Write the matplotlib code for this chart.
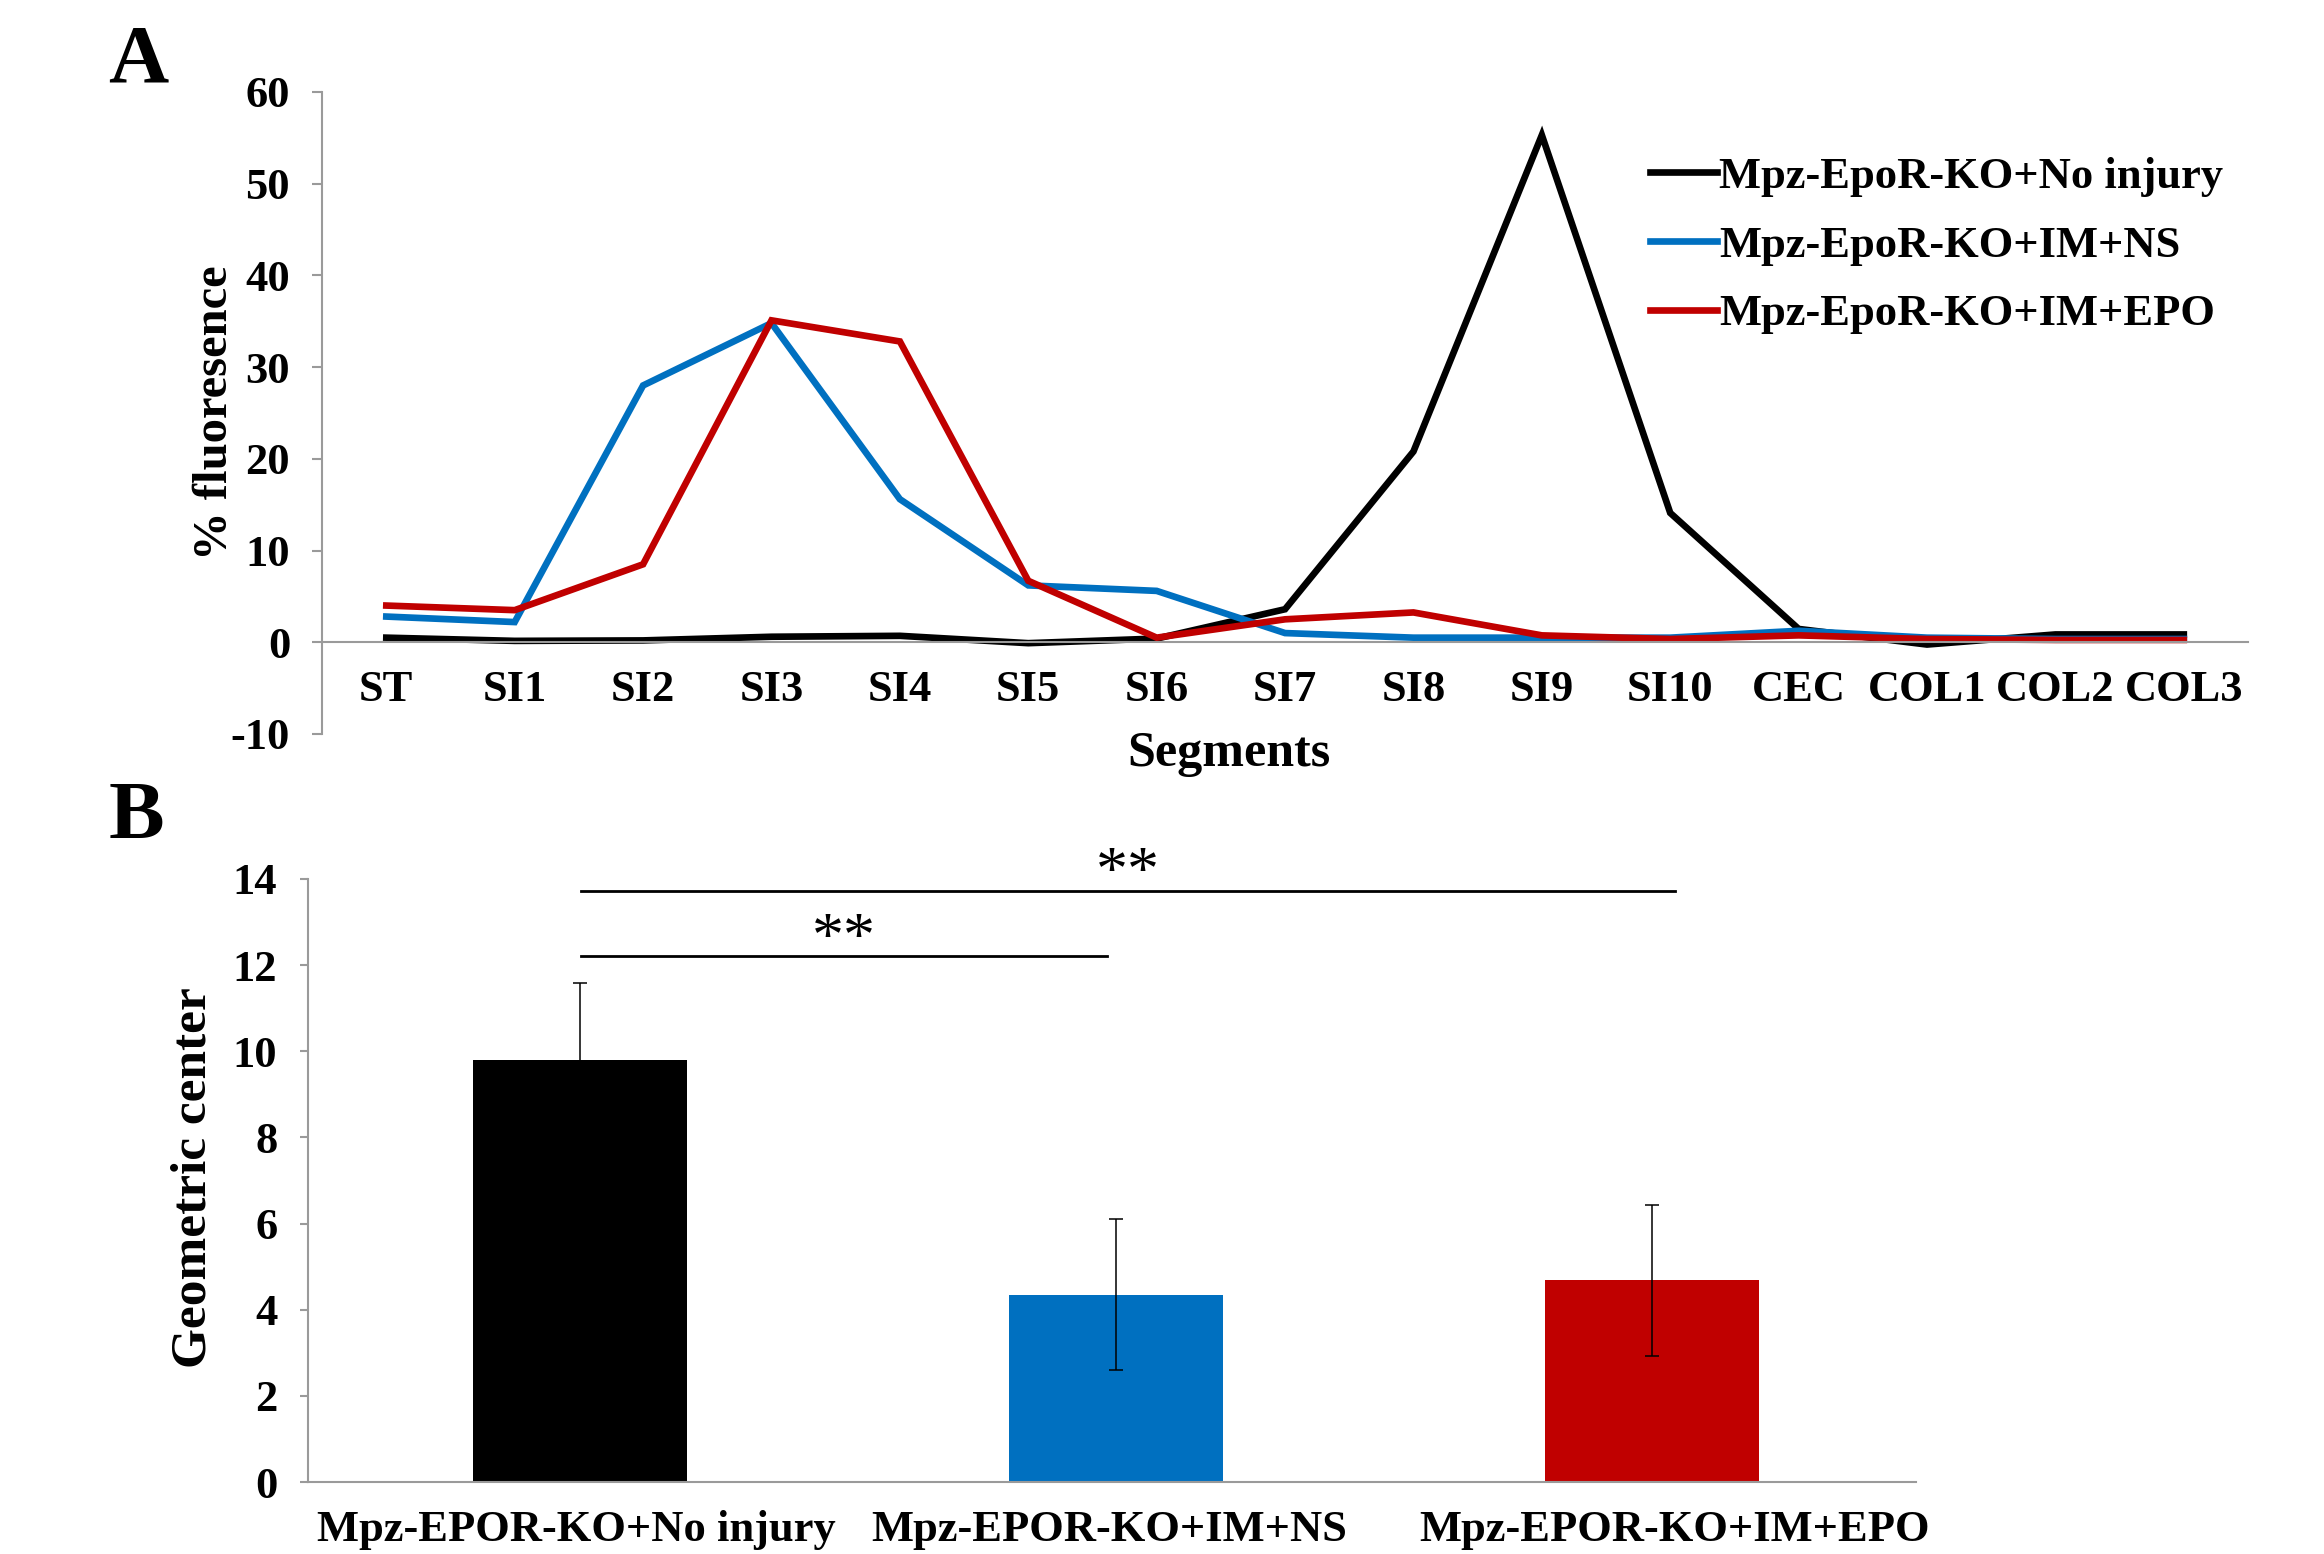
import numpy as np
import matplotlib
matplotlib.use("Agg")
import matplotlib.pyplot as plt

plt.rcParams['font.family'] = ['Liberation Serif', 'DejaVu Serif']
plt.rcParams['font.weight'] = 'bold'
plt.rcParams['axes.unicode_minus'] = False

# panel A data
segments = ['ST', 'SI1', 'SI2', 'SI3', 'SI4', 'SI5', 'SI6', 'SI7', 'SI8', 'SI9',
            'SI10', 'CEC', 'COL1', 'COL2', 'COL3']
no_injury = [0.5, 0.15, 0.2, 0.6, 0.7, -0.1, 0.4, 3.6, 20.8, 55.3, 14.1, 1.45, -0.25, 0.85, 0.85]
im_ns = [2.8, 2.2, 28.0, 34.8, 15.6, 6.2, 5.6, 1.0, 0.5, 0.5, 0.5, 1.25, 0.5, 0.35, 0.35]
im_epo = [4.0, 3.5, 8.5, 35.1, 32.8, 6.7, 0.5, 2.5, 3.25, 0.75, 0.35, 0.75, 0.35, 0.25, 0.25]
line_labels = ['Mpz-EpoR-KO+No injury', 'Mpz-EpoR-KO+IM+NS', 'Mpz-EpoR-KO+IM+EPO']

# panel B data
groups = ['Mpz-EPOR-KO+No injury', 'Mpz-EPOR-KO+IM+NS', 'Mpz-EPOR-KO+IM+EPO']
centers = [9.8, 4.35, 4.68]
errors = [1.78, 1.76, 1.75]

colors = ['#000000', '#0070C0', '#C00000']
gray = '#9a9a9a'

fig = plt.figure(figsize=(23.24, 15.54), dpi=100)

# ---- panel A ----
ax = fig.add_axes([0.1386, 0.5277, 0.8287, 0.4131])
x = np.arange(len(segments))
for vals, c, lab in zip([no_injury, im_ns, im_epo], colors, line_labels):
    ax.plot(x, vals, color=c, lw=4.8, label=lab, solid_joinstyle='miter')
ax.set_xlim(-0.5, len(segments) - 0.5)
ax.set_ylim(-10, 60)
ax.set_yticks(range(-10, 61, 10))
ax.set_xticks(x)
ax.set_xticklabels(segments)
for s in ['top', 'right']:
    ax.spines[s].set_visible(False)
ax.spines['bottom'].set_position(('data', 0))
ax.spines['bottom'].set_color(gray)
ax.spines['left'].set_color(gray)
ax.spines['bottom'].set_linewidth(1.5)
ax.spines['left'].set_linewidth(1.5)
ax.tick_params(axis='x', length=0, pad=20, labelsize=32)
ax.tick_params(axis='y', length=7, width=1.5, color=gray, direction='out', pad=16, labelsize=32)
ax.text(0.471, -0.031, 'Segments', transform=ax.transAxes, ha='center', va='center',
        fontsize=36, fontweight='bold')
ax.text(-0.0556, 0.5, '% fluoresence', transform=ax.transAxes, ha='center', va='center',
        rotation=90, fontsize=35, fontweight='bold')
ax.legend(loc='upper left', bbox_to_anchor=(0.6895, 0.899), frameon=False, fontsize=32,
          handlelength=1.5, handletextpad=0.05, labelspacing=0.64, borderpad=0,
          borderaxespad=0)

# ---- panel B ----
bx = fig.add_axes([0.1325, 0.0463, 0.6919, 0.3881])
xb = np.arange(len(groups))
bx.bar(xb + 0.008, centers, width=0.4, color=colors, zorder=2)
bx.errorbar(xb + 0.008, centers, yerr=errors, fmt='none', ecolor='black', elinewidth=1.1,
            capsize=5, capthick=1.1, zorder=3)
bx.set_xlim(-0.5, len(groups) - 0.5)
bx.set_ylim(0, 14)
bx.set_yticks(range(0, 15, 2))
# labels in the original sit a little off the bar centres
bx.set_xticks(xb + np.array([0.0, -0.005, 0.05]))
bx.set_xticklabels(groups)
for s in ['top', 'right']:
    bx.spines[s].set_visible(False)
bx.spines['bottom'].set_color(gray)
bx.spines['left'].set_color(gray)
bx.spines['bottom'].set_linewidth(1.5)
bx.spines['left'].set_linewidth(1.5)
bx.tick_params(axis='x', length=0, pad=20, labelsize=32)
bx.tick_params(axis='y', length=6, width=1.5, color=gray, direction='out', pad=16, labelsize=32)
bx.text(-0.0709, 0.504, 'Geometric center', transform=bx.transAxes, ha='center', va='center',
        rotation=90, fontsize=37, fontweight='bold')

# significance brackets
for xa, xz, yl, ys in [(0.01, 2.05, 13.72, 14.1), (0.01, 0.99, 12.21, 12.55)]:
    bx.plot([xa, xz], [yl, yl], color='black', lw=2, clip_on=False)
    bx.text((xa + xz) / 2, ys, '**', ha='center', va='center', fontsize=46,
            fontweight='normal', clip_on=False)

# panel letters
fig.text(138 / 2324, 1 - 62 / 1554, 'A', ha='center', va='center', fontsize=60, fontweight='bold')
fig.text(136 / 2324, 1 - 818 / 1554, 'B', ha='center', va='center', fontsize=60, fontweight='bold')

fig.savefig('out.png', dpi=100)
